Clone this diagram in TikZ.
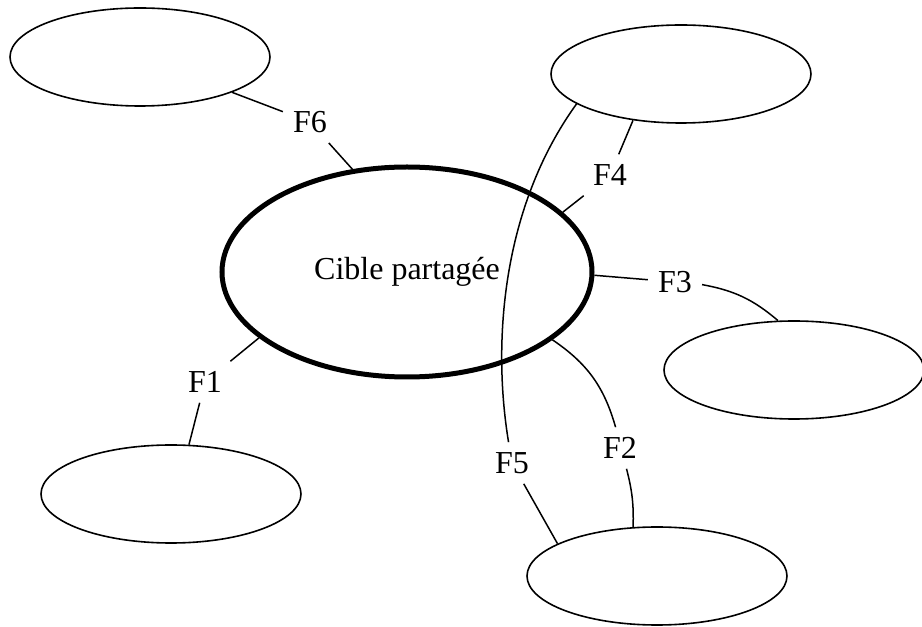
\documentclass[tikz,border=0pt]{standalone}
\usepackage{fontspec}
\setmainfont{Liberation Serif}
\usetikzlibrary{shapes.geometric}
\begin{document}
\begin{tikzpicture}[x=1pt,y=1pt,font=\fontsize{32}{38}\selectfont,
  bulle/.style={draw, ellipse, line width=1.6pt, minimum width=260pt, minimum height=98pt},
  fonction/.style={inner sep=10pt},
  lien/.style={line width=1.5pt}]
\useasboundingbox (0,0) rectangle (922,627);
\node[draw, ellipse, line width=5pt, minimum width=370pt, minimum height=210pt] (cible) at (407,355) {\raisebox{-3pt}{Cible partagée}};
\node[bulle] (hg) at (140,570) {};
\node[bulle] (hd) at (681,553) {};
\node[bulle] (dr) at (794,257) {};
\node[bulle] (bg) at (171,133) {};
\node[bulle] (bd) at (657,51) {};
\node[fonction] (f1) at (205,245) {F1};
\node[fonction] (f2) at (620,179) {F2};
\node[fonction] (f3) at (675,345) {F3};
\node[fonction] (f4) at (610,452) {F4};
\node[fonction] (f5) at (512,164) {F5};
\node[fonction] (f6) at (310,505) {F6};
\draw[lien] (cible.204) -- (f1);
\draw[lien] (f1) -- (bg.70);
\draw[lien] (cible.-25) to[bend left=20] (f2);
\draw[lien] (f2) to[bend left=8] (bd.116);
\draw[lien] (cible.-1) -- (f3);
\draw[lien] (f3) to[bend left=15] (dr.108);
\draw[lien] (hd.224) -- (f4);
\draw[lien] (f4) -- (cible.21);
\draw[lien] (hd.196) .. controls (502,420) and (492,285) .. (f5);
\draw[lien] (f5) -- (bd.162);
\draw[lien] (hg.-21) -- (f6);
\draw[lien] (f6) -- (cible.118);
\end{tikzpicture}
\end{document}
